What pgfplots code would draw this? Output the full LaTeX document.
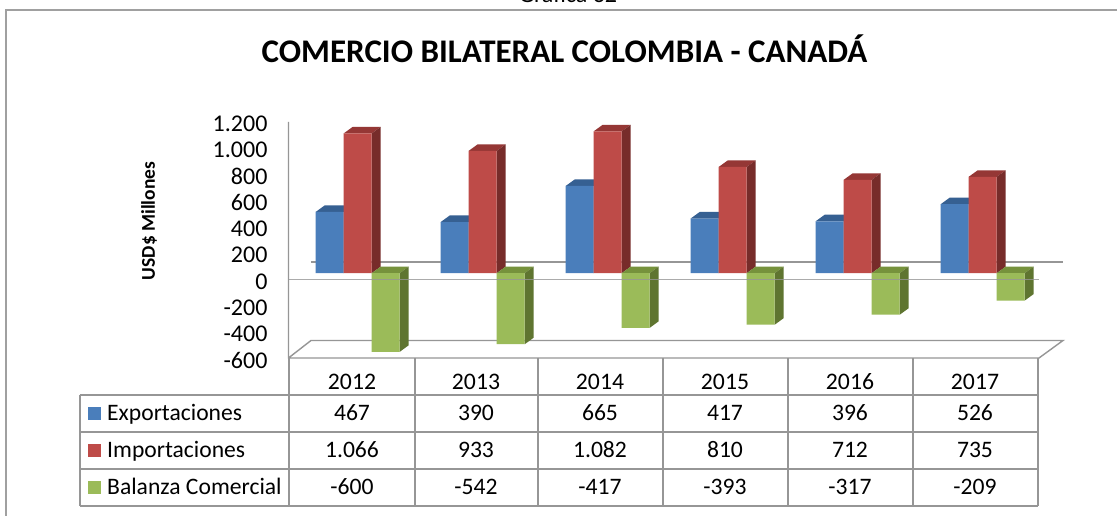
\documentclass[border=0pt]{standalone}
\usepackage{fontspec}
\setmainfont{Carlito}
\usepackage{pgfplots}
\usepackage{pgfplotstable}
\pgfplotsset{compat=1.18}
\definecolor{cframe}{HTML}{A0A0A0}
\definecolor{cline}{HTML}{969696}
\definecolor{bF}{HTML}{4A7EBB}\definecolor{bT}{HTML}{366092}
\definecolor{rF}{HTML}{BE4B48}\definecolor{rT}{HTML}{953735}\definecolor{rS}{HTML}{772C2A}
\definecolor{gF}{HTML}{9BBB59}\definecolor{gT}{HTML}{76923C}\definecolor{gS}{HTML}{5F7530}
\pgfplotstableread{
xe xi xb exp imp bal
329.7 357.7 385.7 467 1066 -600
454.7 482.7 510.7 390 933 -542
579.7 607.7 635.7 665 1082 -417
704.7 732.7 760.7 417 810 -393
829.7 857.7 885.7 396 712 -317
954.7 982.7 1010.7 526 735 -209
}\datatable
% depth faces of one bar: left edge, value, top colour, side colour
\newcommand\faces[4]{%
  \pgfmathsetmacro\xa{#1}\pgfmathsetmacro\xb{#1+28}%
  \pgfmathsetmacro\xc{#1+9}\pgfmathsetmacro\xd{#1+37}%
  \pgfmathsetmacro\ya{max(#2,0)}\pgfmathsetmacro\yb{min(#2,0)}%
  \pgfmathsetmacro\yat{\ya+50}\pgfmathsetmacro\ybt{\yb+50}%
  \edef\doit{%
    \noexpand\addplot[fill=#3,draw=none] coordinates {(\xa,\ya)(\xc,\yat)(\xd,\yat)(\xb,\ya)} --cycle;
    \noexpand\addplot[fill=#4,draw=none] coordinates {(\xb,\ya)(\xd,\yat)(\xd,\ybt)(\xb,\yb)} --cycle;
  }\doit}
\begin{document}
\begin{tikzpicture}
\path[use as bounding box,clip] (-288pt,-158pt) rectangle (829pt,358pt);
\begin{scope}[x=1pt,y=-1pt,shift={(-288pt,358pt)}]
  \fill[white] (0,0) rectangle (1117,516);
  \draw[cframe,line width=2pt] (6.5,517) -- (6.5,10.5) -- (1118,10.5);
  \node[font=\fontsize{24}{28}\selectfont,anchor=base] at (568,3) {Gráfica 32};
  \node[font=\fontsize{33}{38}\selectfont\bfseries,anchor=base] at (564.5,63) {COMERCIO BILATERAL COLOMBIA - CANADÁ};
  \node[font=\fontsize{19.5}{23}\selectfont\bfseries,rotate=90] at (149,221) {USD\$ Millones};
  % chart walls behind the bars
  \draw[cline,line width=1.4pt] (311,262) -- (1063,262);
  \draw[cline,line width=1.4pt] (288.5,122) -- (288.5,358) -- (1039,358) -- (1063,340.5) -- (311,340.5) -- (288.5,358);
\end{scope}
\begin{axis}[
  at={(0pt,0pt)},anchor=south west,
  x=1pt,y=0.1311pt,
  xmin=288,xmax=1063,ymin=-647,ymax=1153,
  clip=false,
  axis line style={draw=none},
  major tick length=0pt,
  tick style={draw=none},
  ytick={-647,-447,-247,-47,153,353,553,753,953,1153},
  yticklabels={-600,-400,-200,0,200,400,600,800,1.000,1.200},
  yticklabel style={font=\fontsize{24}{28}\selectfont,anchor=east,xshift=-17pt,yshift=-2pt},
  xtick={352,476,600,725,850,975},
  xticklabels={2012,2013,2014,2015,2016,2017},
  xticklabel style={font=\fontsize{23.7}{28}\selectfont,anchor=base,yshift=-32pt},
]
\foreach \v/\x in {467/315.7,390/440.7,665/565.7,417/690.7,396/815.7,526/940.7}{\expandafter\faces\expandafter{\x}{\v}{bT}{bT}}
\addplot[ybar,bar width=28pt,bar shift=0pt,fill=bF,draw=none] table[x=xe,y=exp]{\datatable};
\foreach \v/\x in {1066/343.7,933/468.7,1082/593.7,810/718.7,712/843.7,735/968.7}{\expandafter\faces\expandafter{\x}{\v}{rT}{rS}}
\addplot[ybar,bar width=28pt,bar shift=0pt,fill=rF,draw=none] table[x=xi,y=imp]{\datatable};
\foreach \v/\x in {-600/371.7,-542/496.7,-417/621.7,-393/746.7,-317/871.7,-209/996.7}{\expandafter\faces\expandafter{\x}{\v}{gT}{gS}}
\addplot[ybar,bar width=28pt,bar shift=0pt,fill=gF,draw=none] table[x=xb,y=bal]{\datatable};
\end{axis}
\begin{scope}[x=1pt,y=-1pt,shift={(-288pt,358pt)}]
  \draw[cline,opacity=.8,line width=1.4pt] (288.5,279.5) -- (1039,279.5);
  % data table
  \draw[cline,line width=1.6pt] (80,395) -- (1038,395) (80,432) -- (1038,432) (80,469) -- (1038,469) (80,506) -- (1038,506);
  \draw[cline,line width=1.6pt] (80,395) -- (80,506);
  \foreach \x in {289,415,538,663,788,913,1038}{\draw[cline,line width=1.6pt] (\x,358) -- (\x,506);}
  \fill[bF] (88,407) rectangle (101.5,420);
  \fill[rF] (88,444) rectangle (101.5,457);
  \fill[gF] (88,481) rectangle (101.5,494);
  \begin{scope}[every node/.style={font=\fontsize{23.6}{28}\selectfont,anchor=base}]
    \node[anchor=base west,inner sep=0pt] at (107,421) {Exportaciones};
    \node[anchor=base west,inner sep=0pt] at (107,458) {Importaciones};
    \node[anchor=base west,inner sep=0pt] at (107,495) {Balanza Comercial};
    \foreach \x/\a/\b/\c in {352/467/1.066/-600,476/390/933/-542,600/665/1.082/-417,725/417/810/-393,850/396/712/-317,975/526/735/-209}{
      \node at (\x,421) {\a};
      \node at (\x,458) {\b};
      \node at (\x,495) {\c};
    }
  \end{scope}
\end{scope}
\end{tikzpicture}
\end{document}
